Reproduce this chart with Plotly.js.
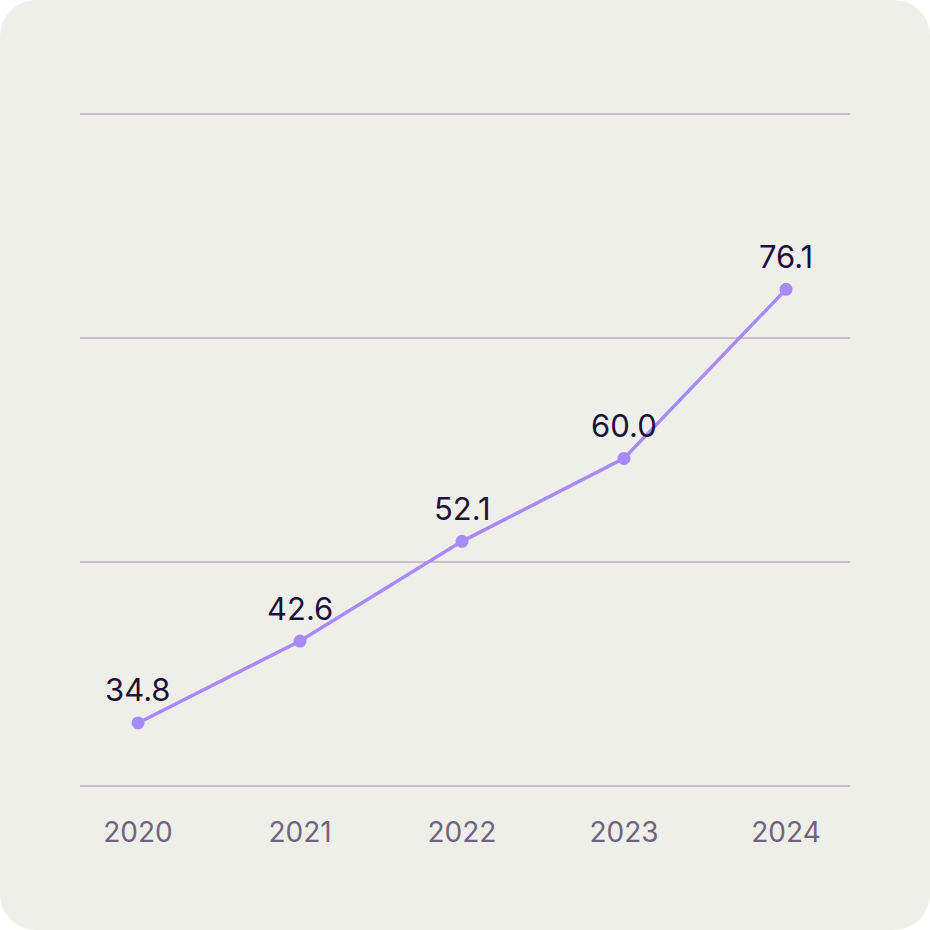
<!DOCTYPE html>
<html>
<head>
<meta charset="utf-8">
<script src="https://cdn.plot.ly/plotly-3.0.1.min.js"></script>
<style>
  html, body { margin: 0; padding: 0; background: #ffffff; }
  #card { width: 930px; height: 930px; background: #efefe9; border-radius: 36px; overflow: hidden; }
  #chart { width: 930px; height: 930px; }
</style>
</head>
<body>
<div id="card"><div id="chart"></div></div>
<script>
const years = ["2020", "2021", "2022", "2023", "2024"];
const values = [34.8, 42.6, 52.1, 60.0, 76.1];
const valueLabels = ["34.8", "42.6", "52.1", "60.0", "76.1"];
const gridValues = [28.8, 50.1333, 71.4667, 92.8];

const trace = {
  x: years.map((_, i) => i),
  y: values,
  type: 'scatter',
  mode: 'lines+markers',
  line: { color: '#a78bfa', width: 3.5 },
  marker: { color: '#a78bfa', size: 13 },
  hoverinfo: 'skip'
};

const annotations = values.map((v, i) => ({
  x: i, y: v, xref: 'x', yref: 'y',
  text: valueLabels[i], showarrow: false,
  xanchor: 'center', yanchor: 'middle', yshift: 33,
  font: { family: 'Inter, sans-serif', size: 31, weight: 400, color: '#1e0f3c' }
}));

const layout = {
  width: 930, height: 930,
  margin: { l: 80, r: 80, t: 113, b: 143 },
  paper_bgcolor: 'rgba(0,0,0,0)',
  plot_bgcolor: 'rgba(0,0,0,0)',
  showlegend: false,
  xaxis: {
    range: [-0.358, 4.395],
    tickvals: years.map((_, i) => i),
    ticktext: years,
    showgrid: false, zeroline: false, showline: false,
    ticks: '', ticklabelstandoff: 26,
    tickfont: { family: 'Inter, sans-serif', size: 28, color: '#6f6480' },
    fixedrange: true
  },
  yaxis: {
    range: [28.7, 92.9],
    tickvals: gridValues,
    showticklabels: false,
    showgrid: true, gridcolor: '#c5c1c7', gridwidth: 2,
    zeroline: false, showline: false, ticks: '',
    fixedrange: true
  },
  annotations: annotations
};

Plotly.newPlot('chart', [trace], layout, { displayModeBar: false, staticPlot: true });
</script>
</body>
</html>
